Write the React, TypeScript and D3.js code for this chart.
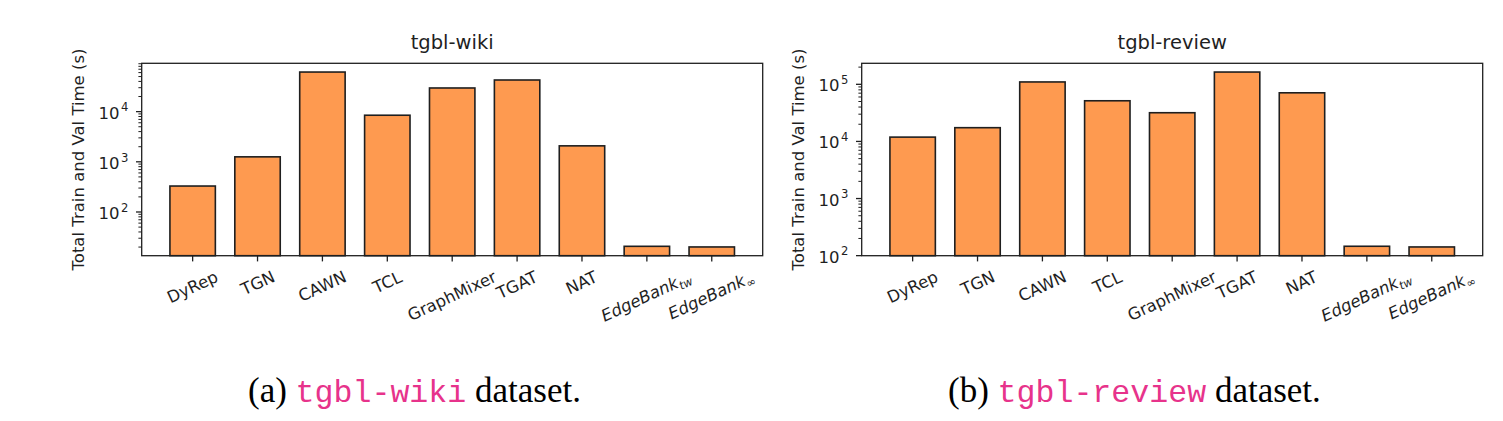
import { useEffect, useRef } from 'react';
import * as d3 from 'd3';

// model names (text after "_" is drawn as a subscript)
const models = ['DyRep', 'TGN', 'CAWN', 'TCL', 'GraphMixer', 'TGAT', 'NAT', 'EdgeBank_tw', 'EdgeBank_∞'];

// total train + val time in seconds
const wikiTimes = [329, 1256, 61500, 8480, 29600, 42700, 2080, 20.7, 20.1];
const reviewTimes = [11900, 17400, 110000, 51500, 31800, 164000, 71000, 146, 142];

const panelTitles = ['tgbl-wiki', 'tgbl-review'];
const captionTags = ['(a)', '(b)'];
const yLabel = 'Total Train and Val Time (s)';

const W = 1503;
const H = 421;
const panelLefts = [141.7, 861.7];
const plotW = 621;
const top = 63.3;
const bottom = 255.7;
const captionX = [248, 948];

const BAR = '#fe9a50';
const INK = '#1f1f1f';
const PINK = '#e7338b';
const SANS = 'DejaVu Sans, sans-serif';
const TICK_FS = 16.5;
const MAJOR = 5.7;
const MINOR = 3.3;
const PAD = 5.7;
const ROT = 25;

export default function App() {
  const svgRef = useRef<SVGSVGElement>(null);

  useEffect(() => {
    if (!svgRef.current) return;
    const svg = d3.select(svgRef.current);
    svg.selectAll('*').remove();

    const series = [wikiTimes, reviewTimes];

    series.forEach((vals, pi) => {
      const left = panelLefts[pi];
      const right = left + plotW;

      const x = d3.scaleBand<string>()
        .domain(models)
        .range([left, right])
        .paddingInner(0.3)
        .paddingOuter(0.435);

      // matplotlib-like 5% margin in log space
      const [lo, hi] = (d3.extent(vals) as [number, number]).map(Math.log10);
      const m = (hi - lo) * 0.05;
      const y = d3.scaleLog()
        .domain([10 ** (lo - m), 10 ** (hi + m)])
        .range([bottom, top]);

      const g = svg.append('g');

      // bars
      g.selectAll('rect.bar')
        .data(vals)
        .join('rect')
        .attr('class', 'bar')
        .attr('x', (_, i) => x(models[i]) as number)
        .attr('y', d => y(d))
        .attr('width', x.bandwidth())
        .attr('height', d => bottom - y(d))
        .attr('fill', BAR)
        .attr('stroke', INK)
        .attr('stroke-width', 1.6);

      // y ticks (major at decades, minor in between)
      const ticks = y.ticks();
      const isMajor = (t: number) => Math.abs(Math.log10(t) - Math.round(Math.log10(t))) < 1e-9;
      g.selectAll('line.yt')
        .data(ticks)
        .join('line')
        .attr('class', 'yt')
        .attr('x1', d => left - (isMajor(d) ? MAJOR : MINOR))
        .attr('x2', left)
        .attr('y1', d => y(d))
        .attr('y2', d => y(d))
        .attr('stroke', INK)
        .attr('stroke-width', d => (isMajor(d) ? 1.3 : 1));

      const yl = g.selectAll('text.yl')
        .data(ticks.filter(isMajor))
        .join('text')
        .attr('class', 'yl')
        .attr('x', left - MAJOR - PAD - 1.8)
        .attr('y', d => y(d) + 7)
        .attr('text-anchor', 'end')
        .attr('font-family', SANS)
        .attr('font-size', TICK_FS)
        .attr('fill', INK);
      yl.append('tspan').text('10');
      yl.append('tspan')
        .attr('font-size', 11.6)
        .attr('dx', 1.5)
        .attr('dy', -7.2)
        .text(d => String(Math.round(Math.log10(d))));

      // x ticks
      g.selectAll('line.xt')
        .data(models)
        .join('line')
        .attr('class', 'xt')
        .attr('x1', d => (x(d) as number) + x.bandwidth() / 2)
        .attr('x2', d => (x(d) as number) + x.bandwidth() / 2)
        .attr('y1', bottom)
        .attr('y2', bottom + MAJOR)
        .attr('stroke', INK)
        .attr('stroke-width', 1.3);

      // rotated x tick labels: rotated bbox centred on tick, top below the tick
      const rad = (ROT * Math.PI) / 180;
      models.forEach(name => {
        const [main, sub] = name.split('_');
        const cx = (x(name) as number) + x.bandwidth() / 2;
        const t = g.append('text')
          .attr('font-family', SANS)
          .attr('font-size', TICK_FS)
          .attr('fill', INK);
        const mt = t.append('tspan').text(main);
        if (sub) {
          mt.attr('font-style', 'italic');
          t.append('tspan')
            .attr('font-size', 11.6)
            .attr('dy', 3.5)
            .attr('font-style', sub === '∞' ? 'normal' : 'italic')
            .text(sub);
        }
        const bb = (t.node() as SVGTextElement).getBBox();
        const rh = bb.width * Math.sin(rad) + bb.height * Math.cos(rad);
        const y0 = bottom + MAJOR + PAD;
        t.attr(
          'transform',
          `translate(${cx},${y0 + rh / 2}) rotate(${-ROT}) translate(${-(bb.x + bb.width / 2)},${-(bb.y + bb.height / 2)})`
        );
      });

      // frame
      g.append('rect')
        .attr('x', left)
        .attr('y', top)
        .attr('width', plotW)
        .attr('height', bottom - top)
        .attr('fill', 'none')
        .attr('stroke', INK)
        .attr('stroke-width', 1.3);

      // title
      g.append('text')
        .attr('x', left + plotW / 2)
        .attr('y', 49)
        .attr('text-anchor', 'middle')
        .attr('font-family', SANS)
        .attr('font-size', 19.5)
        .attr('fill', INK)
        .text(panelTitles[pi]);

      // y axis label
      g.append('text')
        .attr('transform', `translate(${left - 57.7},${(top + bottom) / 2}) rotate(-90)`)
        .attr('text-anchor', 'middle')
        .attr('font-family', SANS)
        .attr('font-size', TICK_FS)
        .attr('fill', INK)
        .text(yLabel);

      // caption below the panel
      const cap = svg.append('text')
        .attr('x', captionX[pi])
        .attr('y', 402)
        .attr('fill', '#000')
        .style('white-space', 'pre');
      cap.append('tspan')
        .attr('font-family', 'Liberation Serif, Times New Roman, serif')
        .attr('font-size', 35)
        .text(`${captionTags[pi]} `);
      cap.append('tspan')
        .attr('font-family', 'Liberation Mono, monospace')
        .attr('font-size', 31.6)
        .attr('fill', PINK)
        .text(panelTitles[pi]);
      cap.append('tspan')
        .attr('font-family', 'Liberation Serif, Times New Roman, serif')
        .attr('font-size', 35)
        .text(' dataset.');
    });
  }, []);

  return (
    <svg
      ref={svgRef}
      width={W}
      height={H}
      style={{ position: 'absolute', left: 0, top: 0, background: '#fff' }}
    />
  );
}
